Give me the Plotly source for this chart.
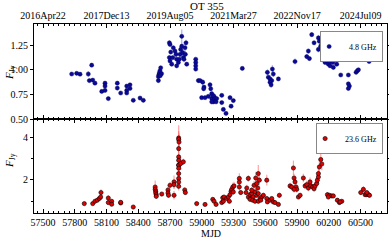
import plotly.graph_objects as go

# ---------------- 4.8 GHz (top panel) ----------------
mjd_48 = [57771, 57818, 57850, 57928, 57960, 57938, 57970, 57991, 58055, 58086,
          58086, 58086, 58117, 58202, 58202, 58234, 58291, 58291, 58322, 58322,
          58291, 58353, 58417, 58448,
          58590, 58590, 58595, 58600, 58605, 58612, 58620, 58608,
          58694, 58700, 58707, 58694, 58700, 58716, 58731, 58747, 58757, 58763,
          58779, 58795, 58801, 58811, 58820, 58826, 58842, 58851, 58845, 58858,
          58832, 58726, 58788, 58811, 58763,
          58943, 58943, 58943, 58943, 58968, 58984, 59009, 59021, 59018, 58999,
          59031, 59062, 59078, 59085, 59094, 59094, 59104, 59116, 59125, 59110,
          59141, 59135, 59094, 59189, 59189, 59204, 59229, 59267, 59277, 59298,
          59383,
          59620, 59629, 59645, 59661, 59645, 59655, 59667, 59676, 59724,
          59881, 59992, 60007, 60017, 60039, 60061, 60102, 60111, 60124, 60102,
          60134, 60143, 60149, 60155, 60165, 60181, 60196, 60206, 60212, 60228,
          60238, 60243, 60259, 60275, 60291, 60281, 60313, 60385, 60385, 60395,
          60385, 60458, 60470, 60480, 60496, 60581, 60581]
flux_48 = [0.957, 0.964, 0.955, 0.957, 1.047, 0.890, 0.895, 0.864, 0.780, 0.864,
           0.834, 0.790, 0.707, 0.864, 0.814, 0.764, 0.834, 0.790, 0.847, 0.810,
           0.764, 0.690, 0.713, 0.690,
           0.890, 0.930, 0.950, 0.970, 0.990, 1.020, 0.960, 0.940,
           1.274, 1.257, 1.180, 1.124, 1.090, 1.057, 1.224, 1.190, 1.157, 1.107,
           1.074, 1.157, 1.207, 1.340, 1.174, 1.124, 1.224, 1.274, 1.157, 1.057,
           1.107, 1.124, 1.107, 1.240, 1.040,
           1.107, 1.074, 1.040, 1.007, 0.890, 0.890, 0.874, 0.824, 0.807, 0.717,
           0.717, 0.730, 0.847, 0.807, 0.757, 0.707, 0.740, 0.730, 0.707, 0.674,
           0.707, 0.674, 0.674, 0.740, 0.667, 0.597, 0.557, 0.717, 0.630, 0.687,
           1.014,
           0.974, 0.924, 0.907, 0.890, 0.874, 0.847, 1.007, 0.957, 0.907,
           1.084, 1.134, 1.190, 1.114, 1.357, 1.274, 1.324, 1.290, 1.240, 1.207,
           1.307, 1.174, 1.274, 1.107, 1.074, 1.090, 1.057, 1.080, 1.040, 1.124,
           1.074, 1.024, 1.107, 1.057, 1.190, 1.257, 0.947, 0.947, 0.857, 0.834,
           0.810, 0.974, 0.990, 1.000, 1.107, 1.214, 1.084]
err_48 = [0.010, 0.010, 0.010, 0.030, 0.020, 0.015, 0.015, 0.015, 0.012, 0.015,
          0.012, 0.012, 0.012, 0.012, 0.012, 0.012, 0.012, 0.012, 0.012, 0.012,
          0.012, 0.012, 0.012, 0.012,
          0.020, 0.020, 0.020, 0.020, 0.020, 0.020, 0.020, 0.020,
          0.025, 0.020, 0.020, 0.020, 0.020, 0.020, 0.020, 0.030, 0.030, 0.020,
          0.020, 0.030, 0.030, 0.070, 0.030, 0.030, 0.040, 0.030, 0.030, 0.020,
          0.030, 0.020, 0.030, 0.030, 0.020,
          0.015, 0.015, 0.015, 0.015, 0.025, 0.015, 0.030, 0.020, 0.020, 0.012,
          0.012, 0.012, 0.030, 0.020, 0.020, 0.020, 0.020, 0.020, 0.020, 0.020,
          0.020, 0.015, 0.015, 0.015, 0.015, 0.015, 0.015, 0.015, 0.020, 0.015,
          0.015,
          0.030, 0.030, 0.040, 0.030, 0.030, 0.030, 0.040, 0.030, 0.020,
          0.030, 0.025, 0.025, 0.020, 0.025, 0.020, 0.030, 0.050, 0.040, 0.030,
          0.030, 0.040, 0.030, 0.030, 0.020, 0.020, 0.020, 0.020, 0.020, 0.020,
          0.020, 0.020, 0.020, 0.020, 0.020, 0.020, 0.015, 0.020, 0.020, 0.020,
          0.020, 0.015, 0.015, 0.015, 0.020, 0.025, 0.020]

# ---------------- 23.6 GHz (bottom panel) ----------------
mjd_236 = [57890, 57970, 57991, 58013, 58032, 58045, 58048, 58117, 58117, 58149,
           58149, 58234, 58234, 58353,
           58560, 58560, 58565, 58565, 58570, 58570, 58622, 58681, 58681, 58686,
           58700, 58738, 58738, 58738,
           58782, 58782, 58785, 58782, 58782, 58782, 58782, 58782, 58782, 58782,
           58782, 58782, 58782, 58801, 58826, 58839, 58845, 58952,
           59031, 59104, 59116, 59135, 59189, 59204, 59198, 59210, 59236, 59251,
           59267, 59277, 59283, 59293, 59305, 59298, 59261, 59355, 59355, 59355,
           59368, 59440, 59425, 59418, 59440, 59456, 59472, 59487, 59503, 59519,
           59534, 59551, 59567, 59582, 59472, 59494, 59510, 59519, 59534, 59544,
           59529, 59456, 59481, 59503, 59534, 59557, 59614, 59620, 59614, 59645,
           59661, 59676, 59692, 59724, 59733,
           59834, 59850, 59866, 59872, 59881, 59891, 59897, 59913, 59929, 59872,
           59960, 59976, 59992, 60007, 60023, 60030, 60049, 60061, 60070, 60086,
           60092, 60102, 60102, 60111, 60124, 60134,
           60187, 60206, 60228, 60243, 60196, 60281, 60300, 60323, 60307,
           60502, 60527, 60543, 60559, 60575, 60585, 60559]
flux_236 = [0.89, 0.89, 1.00, 1.05, 1.13, 1.20, 1.41, 1.15, 0.94, 1.00,
            0.86, 0.92, 0.95, 0.73,
            1.67, 1.56, 1.47, 1.39, 1.31, 1.23, 1.34, 1.53, 1.39, 1.28,
            1.75, 1.28, 1.91, 1.78,
            3.97, 3.90, 3.78, 3.47, 3.08, 2.92, 2.70, 2.69, 2.55, 2.30,
            2.07, 1.90, 1.70, 2.77, 2.85, 1.53, 1.41, 0.89,
            0.85, 1.09, 1.00, 0.85, 0.94, 1.00, 1.16, 1.20, 1.13, 1.20,
            1.31, 1.47, 1.56, 1.67, 1.72, 1.44, 1.00, 2.07, 1.90, 1.67,
            1.41, 2.07, 1.62, 1.41, 1.20, 1.31, 1.36, 1.20, 1.44, 1.28,
            1.36, 1.13, 1.20, 1.28, 1.52, 1.75, 2.09, 1.83, 2.30, 1.99,
            1.62, 1.09, 1.05, 1.00, 1.00, 1.05, 1.13, 0.97, 1.99, 1.05,
            1.13, 0.97, 0.94, 0.85, 1.28,
            1.72, 1.67, 2.56, 2.09, 1.91, 1.67, 1.56, 1.20, 1.28, 1.56,
            2.09, 1.72, 1.78, 1.62, 1.91, 1.72, 1.67, 1.59, 1.72, 1.83,
            1.99, 2.14, 2.30, 2.61, 2.96, 2.75,
            1.31, 1.28, 1.25, 1.25, 1.20, 1.05, 0.94, 1.00, 0.97,
            1.41, 1.56, 1.31, 1.31, 1.31, 1.28, 1.41]
err_236 = [0.06, 0.06, 0.08, 0.10, 0.10, 0.12, 0.15, 0.15, 0.08, 0.10,
           0.08, 0.06, 0.06, 0.05,
           0.30, 0.20, 0.15, 0.15, 0.12, 0.12, 0.08, 0.15, 0.12, 0.10,
           0.15, 0.20, 0.30, 0.20,
           0.60, 0.40, 0.40, 0.35, 0.30, 0.30, 0.30, 0.30, 0.30, 0.30,
           0.25, 0.25, 0.20, 0.30, 0.15, 0.12, 0.10, 0.06,
           0.06, 0.08, 0.08, 0.06, 0.08, 0.08, 0.10, 0.10, 0.10, 0.10,
           0.12, 0.15, 0.15, 0.20, 0.20, 0.15, 0.08, 0.25, 0.20, 0.15,
           0.12, 0.15, 0.15, 0.12, 0.10, 0.12, 0.12, 0.10, 0.12, 0.10,
           0.12, 0.10, 0.10, 0.12, 0.15, 0.20, 0.30, 0.20, 0.40, 0.25,
           0.15, 0.10, 0.08, 0.08, 0.08, 0.08, 0.10, 0.08, 0.25, 0.08,
           0.10, 0.08, 0.08, 0.06, 0.12,
           0.15, 0.15, 0.35, 0.20, 0.20, 0.15, 0.15, 0.10, 0.12, 0.15,
           0.20, 0.15, 0.20, 0.15, 0.20, 0.15, 0.15, 0.15, 0.20, 0.20,
           0.25, 0.30, 0.30, 0.35, 0.35, 0.30,
           0.12, 0.10, 0.10, 0.10, 0.10, 0.08, 0.08, 0.08, 0.08,
           0.12, 0.15, 0.10, 0.10, 0.10, 0.10, 0.10]

date_vals = [57500, 58100, 58700, 59300, 59900, 60500]
date_text = ["2016Apr22", "2017Dec13", "2019Aug05", "2021Mar27", "2022Nov17", "2024Jul09"]

FONT = "Liberation Serif"

fig = go.Figure()
fig.add_trace(go.Scatter(
    x=mjd_48, y=flux_48, mode="markers", name="4.8 GHz",
    xaxis="x2", yaxis="y2", legend="legend",
    marker=dict(color="#0a0a96", size=4.2, line=dict(color="#000060", width=0.4)),
    error_y=dict(type="data", array=err_48, color="rgba(90,110,255,0.55)", width=0, thickness=1.2),
))
fig.add_trace(go.Scatter(
    x=mjd_236, y=flux_236, mode="markers", name="23.6 GHz",
    xaxis="x", yaxis="y", legend="legend2",
    marker=dict(color="#e00000", size=4.2, line=dict(color="black", width=0.6)),
    error_y=dict(type="data", array=err_236, color="rgba(255,90,90,0.55)", width=0, thickness=1.2),
))

axis_common = dict(showline=True, linecolor="black", linewidth=1, showgrid=False,
                   zeroline=False, tickcolor="black", automargin=False,
                   tickfont=dict(family=FONT, size=10, color="black"))

split = 94 / 189
legend_common = dict(xanchor="right", yanchor="top", bgcolor="white",
                     bordercolor="#888888", borderwidth=1,
                     font=dict(family=FONT, size=8, color="black"),
                     itemwidth=30, tracegroupgap=0, indentation=-12)
fig.update_layout(
    width=389, height=240,
    margin=dict(l=34, r=2, t=24, b=27, autoexpand=False),
    paper_bgcolor="white", plot_bgcolor="white",
    font=dict(family=FONT, size=10, color="black"),
    showlegend=True,
    xaxis=dict(domain=[0, 1], anchor="y", range=[57415, 60750], tick0=57500, dtick=300,
               tickformat="d", ticks="inside", ticklen=4, mirror="ticks",
               minor=dict(dtick=50, tick0=57500, ticks="inside", ticklen=2, tickcolor="black"),
               **axis_common),
    xaxis2=dict(domain=[0, 1], anchor="y2", matches="x", side="top",
                tickmode="array", tickvals=date_vals, ticktext=date_text,
                ticks="inside", ticklen=4, mirror="ticks",
                minor=dict(dtick=50, tick0=57500, ticks="inside", ticklen=2, tickcolor="black"),
                **axis_common),
    yaxis=dict(domain=[0, split], anchor="x", range=[0.45, 4.86], tick0=0, dtick=2,
               ticks="outside", ticklen=3, mirror="ticks",
               minor=dict(dtick=1, tick0=0, ticks="outside", ticklen=2, tickcolor="black"),
               **axis_common),
    yaxis2=dict(domain=[split, 1], anchor="x2", range=[0.5, 1.465], tick0=0.5, dtick=0.25,
                tickformat=".2f", ticks="outside", ticklen=3, mirror="ticks",
                **axis_common),
    legend=dict(x=0.989, y=0.963, **legend_common),
    legend2=dict(x=0.989, y=0.476, **legend_common),
    annotations=[
        dict(text="OT 355", x=0.49, y=1.095, xref="paper", yref="paper",
             showarrow=False, xanchor="center", yanchor="middle",
             font=dict(family=FONT, size=11, color="black")),
        dict(text="MJD", x=0.5, y=-0.108, xref="paper", yref="paper",
             showarrow=False, xanchor="center", yanchor="middle",
             font=dict(family=FONT, size=10, color="black")),
        dict(text="<i>F</i><sub>Jy</sub>", x=-0.068, y=0.746, xref="paper", yref="paper",
             showarrow=False, textangle=-90, xanchor="center", yanchor="middle",
             font=dict(family=FONT, size=11, color="black")),
        dict(text="<i>F</i><sub>Jy</sub>", x=-0.068, y=0.28, xref="paper", yref="paper",
             showarrow=False, textangle=-90, xanchor="center", yanchor="middle",
             font=dict(family=FONT, size=11, color="black")),
    ],
)

fig.write_html(
    "out.html",
    config={"displayModeBar": False},
    post_script="document.body.style.margin='0';document.body.style.padding='0';document.body.style.overflow='hidden';",
)
